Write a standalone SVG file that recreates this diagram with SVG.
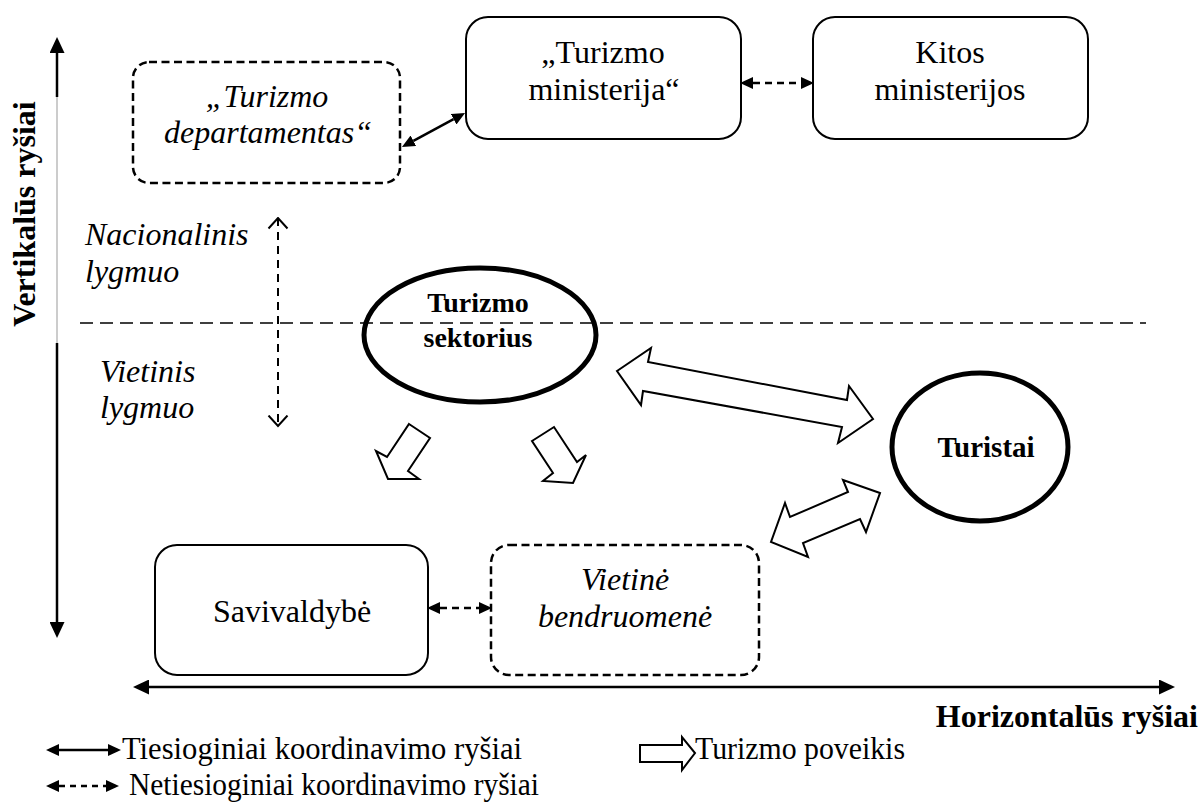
<svg xmlns="http://www.w3.org/2000/svg" width="1202" height="803" viewBox="0 0 1202 803">
<style>
.t{font-family:"Liberation Serif","Times New Roman",serif;fill:#000}
.n{font-size:32px}
.i{font-style:italic}
.b{font-weight:bold}
.box{fill:#fff;stroke:#000;stroke-width:2}
.dbox{fill:#fff;stroke:#000;stroke-width:2.5;stroke-dasharray:8 4.5}
.blk{fill:#fff;stroke:#000;stroke-width:2;stroke-linejoin:miter}
.ax{stroke:#000;stroke-width:2.5;fill:none}
.con{stroke:#000;stroke-width:2.5;fill:none}
.dcon{stroke:#000;stroke-width:2.5;fill:none;stroke-dasharray:7 5}
</style>
<defs>
<marker id="big" viewBox="0 0 16 15" refX="0" refY="7.5" markerWidth="16" markerHeight="15" markerUnits="userSpaceOnUse" orient="auto-start-reverse"><path d="M0,0L16,7.5L0,15z" fill="#000"/></marker>
<marker id="sm" viewBox="0 0 13 12" refX="0" refY="6" markerWidth="13" markerHeight="12" markerUnits="userSpaceOnUse" orient="auto-start-reverse"><path d="M0,0L13,6L0,12z" fill="#000"/></marker>
<marker id="open" viewBox="0 0 13 22" refX="11.5" refY="11" markerWidth="13" markerHeight="22" markerUnits="userSpaceOnUse" orient="auto-start-reverse"><path d="M1,1.5L11.5,11L1,20.5" fill="none" stroke="#000" stroke-width="2"/></marker>
</defs>

<g id="axes">
<line class="ax" x1="57" y1="53" x2="57" y2="97" marker-start="url(#big)"/>
<line x1="57" y1="97" x2="57" y2="343" stroke="#999" stroke-width="1"/>
<line class="ax" x1="57" y1="343" x2="57" y2="622" marker-end="url(#big)"/>
<line class="ax" x1="149" y1="687" x2="1159" y2="687" marker-start="url(#big)" marker-end="url(#big)"/>
<text class="t b" font-size="32" text-anchor="middle" transform="translate(35,214) rotate(-90)">Vertikalūs ryšiai</text>
<text class="t b" font-size="32" x="1198" y="727" text-anchor="end">Horizontalūs ryšiai</text>
<line x1="80" y1="323" x2="1146" y2="323" stroke="#000" stroke-width="1.5" stroke-dasharray="13 7"/>
</g>

<g id="levels">
<text class="t n i" x="85" y="245">Nacionalinis</text>
<text class="t n i" x="85" y="282">lygmuo</text>
<text class="t n i" x="100" y="382">Vietinis</text>
<text class="t n i" x="100" y="418">lygmuo</text>
</g>

<g id="node-departamentas">
<rect class="dbox" x="133" y="62" width="267" height="121" rx="16"/>
<text class="t n i" x="267" y="107" text-anchor="middle">„Turizmo</text>
<text class="t n i" x="268" y="143" text-anchor="middle">departamentas“</text>
</g>

<g id="node-ministerija">
<rect class="box" x="466" y="17" width="275" height="122" rx="22"/>
<text class="t n" x="603" y="63" text-anchor="middle">„Turizmo</text>
<text class="t n" x="604" y="100" text-anchor="middle">ministerija“</text>
</g>

<g id="node-kitos">
<rect class="box" x="813" y="17" width="275" height="122" rx="22"/>
<text class="t n" x="950" y="63" text-anchor="middle">Kitos</text>
<text class="t n" x="950" y="100" text-anchor="middle">ministerijos</text>
</g>

<g id="node-sektorius">
<ellipse cx="480" cy="335" rx="116" ry="67" fill="none" stroke="#000" stroke-width="5"/>
<text class="t b" font-size="28" x="478" y="312" text-anchor="middle">Turizmo</text>
<text class="t b" font-size="28" x="478" y="347" text-anchor="middle">sektorius</text>
</g>

<g id="node-turistai">
<ellipse cx="980" cy="447" rx="88" ry="74" fill="none" stroke="#000" stroke-width="5"/>
<text class="t b" font-size="29" x="986" y="457" text-anchor="middle">Turistai</text>
</g>

<g id="node-savivaldybe">
<rect class="box" x="155" y="545" width="273" height="130" rx="22"/>
<text class="t n" x="292" y="622" text-anchor="middle">Savivaldybė</text>
</g>

<g id="node-bendruomene">
<rect class="dbox" x="491" y="545" width="268" height="130" rx="18"/>
<text class="t n i" x="625" y="590" text-anchor="middle">Vietinė</text>
<text class="t n i" x="625" y="627" text-anchor="middle">bendruomenė</text>
</g>

<g id="connectors">
<line class="con" x1="413.4" y1="140.8" x2="453.6" y2="119.2" marker-start="url(#sm)" marker-end="url(#sm)"/>
<line class="dcon" x1="753" y1="83" x2="801" y2="83" marker-start="url(#sm)" marker-end="url(#sm)"/>
<line class="dcon" x1="440" y1="608" x2="479" y2="608" marker-start="url(#sm)" marker-end="url(#sm)"/>
<line x1="278" y1="218" x2="278" y2="426" stroke="#000" stroke-width="2" stroke-dasharray="8 6" marker-start="url(#open)" marker-end="url(#open)"/>
<polygon class="blk" points="409,424 430,438 408,471 419,479 388,479 376,451 387,457"/>
<polygon class="blk" points="532,441 554,427 577,462 586,455 573,483 543,481 553,473"/>
<polygon class="blk" points="617,371 651,348 648,362 847,400 849,386 873,419 838,443 842,427 643,391 641,405"/>
<polygon class="blk" points="880,493 843,480 848,492 790,517 785,503 771,542 808,557 803,543 860,519 866,532"/>
</g>

<g id="legend">
<line x1="59" y1="750" x2="108" y2="750" stroke="#000" stroke-width="2.5" marker-start="url(#sm)" marker-end="url(#sm)"/>
<text class="t n" x="122" y="759" textLength="400" lengthAdjust="spacingAndGlyphs">Tiesioginiai koordinavimo ryšiai</text>
<line x1="59" y1="786" x2="106" y2="786" stroke="#000" stroke-width="2.5" stroke-dasharray="6 5" marker-start="url(#sm)" marker-end="url(#sm)"/>
<text class="t n" x="129" y="795" textLength="410" lengthAdjust="spacingAndGlyphs">Netiesioginiai koordinavimo ryšiai</text>
<polygon class="blk" points="640,745 682,745 682,737 695,753 682,770 682,762 640,762"/>
<text class="t n" x="695" y="759" textLength="210" lengthAdjust="spacingAndGlyphs">Turizmo poveikis</text>
</g>
</svg>
